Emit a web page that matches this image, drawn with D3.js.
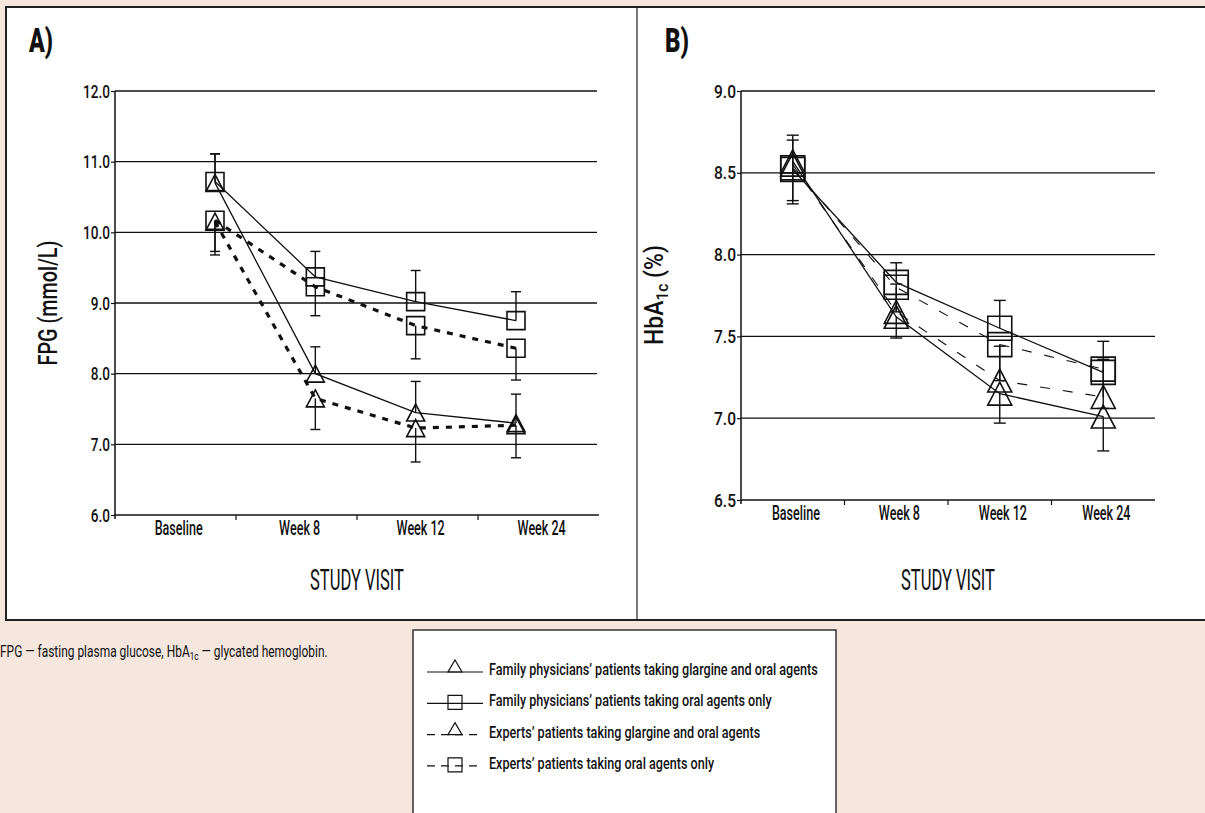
<!DOCTYPE html>
<html><head><meta charset="utf-8">
<script src="https://cdn.jsdelivr.net/npm/d3@7"></script>
<style>
body{margin:0;background:#f5e7de;}
svg{display:block;}
text{font-family:Roboto,"Liberation Sans Narrow","DejaVu Sans",sans-serif;fill:#111;font-weight:500;}
</style></head><body>
<svg id="c" width="1205" height="813"></svg>
<script>
// ---------- data ----------
const categories = ["Baseline", "Week 8", "Week 12", "Week 24"];
const seriesNames = [
  "Family physicians\u2019 patients taking glargine and oral agents",
  "Family physicians\u2019 patients taking oral agents only",
  "Experts\u2019 patients taking glargine and oral agents",
  "Experts\u2019 patients taking oral agents only"
];
// Panel A: FPG (mmol/L)
const fpgTicks = [6, 7, 8, 9, 10, 11, 12];
const fpgFamGlargine = [10.70, 8.00, 7.45, 7.30];
const fpgFamOral     = [10.72, 9.37, 9.02, 8.75];
const fpgExpGlargine = [10.15, 7.65, 7.23, 7.27];
const fpgExpOral     = [10.17, 9.23, 8.68, 8.36];
const fpgFamGlargineErrUp   = [0.41, 0.38, 0.44, 0.41];
const fpgFamOralErrUp       = [0.39, 0.36, 0.44, 0.41];
const fpgExpGlargineErrDown = [0.47, 0.44, 0.48, 0.46];
const fpgExpOralErrDown     = [0.44, 0.41, 0.47, 0.45];
// Panel B: HbA1c (%)
const hbaTicks = [6.5, 7.0, 7.5, 8.0, 8.5, 9.0];
const hbaFamGlargine = [8.57, 7.62, 7.15, 7.01];
const hbaFamOral     = [8.52, 7.83, 7.55, 7.28];
const hbaExpGlargine = [8.55, 7.65, 7.23, 7.13];
const hbaExpOral     = [8.53, 7.80, 7.45, 7.30];
const hbaFamGlargineErrDown = [0.26, 0.13, 0.18, 0.21];
const hbaFamOralErrUp       = [0.21, 0.12, 0.17, 0.19];
const hbaExpGlargineErrUp   = [0.15, 0.17, 0.21, 0.23];
const hbaExpOralErrDown     = [0.20, 0.15, 0.22, 0.24];
const zeros = [0, 0, 0, 0];

// ---------- helpers ----------
const svg = d3.select("#c");
function squeeze(sel, k) {
  sel.each(function () {
    const t = d3.select(this);
    const x = +(t.attr("x") || 0);
    t.attr("x", x / k).attr("transform", `scale(${k},1)`);
  });
}
function factorFor(sel, w) { return w / sel.node().getComputedTextLength(); }

// ---------- frame ----------
svg.append("rect").attr("x", 6).attr("y", 7).attr("width", 1210).attr("height", 613)
  .attr("fill", "#fff").attr("stroke", "#222").attr("stroke-width", 2);
svg.append("line").attr("x1", 637).attr("x2", 637).attr("y1", 7).attr("y2", 620)
  .attr("stroke", "#222").attr("stroke-width", 1.2);

function trianglePath(w, h) {
  return `M0,${-h / 2}L${w / 2},${h / 2}L${-w / 2},${h / 2}Z`;
}

function drawPanel(cfg) {
  const g = svg.append("g");
  const y = d3.scaleLinear().domain(cfg.yDomain).range([cfg.yBottom, cfg.yTop]);
  const xb = d3.scaleBand().domain(categories).range([cfg.x0, cfg.x1]);
  const xp = d3.scalePoint().domain(categories).range(cfg.pointRange);

  // gridlines
  g.selectAll(".grid").data(cfg.ticks.slice(1)).join("line")
    .attr("x1", cfg.x0).attr("x2", cfg.gridEnd)
    .attr("y1", d => y(d)).attr("y2", d => y(d))
    .attr("stroke", "#111").attr("stroke-width", 1.3);

  // y axis
  const ya = g.append("g").attr("transform", `translate(${cfg.x0},0)`)
    .call(d3.axisLeft(y).tickValues(cfg.ticks).tickFormat(d3.format(".1f")).tickSize(4).tickSizeOuter(0).tickPadding(1));
  ya.attr("font-family", null).attr("font-size", null);
  ya.select(".domain").attr("stroke", "#111").attr("stroke-width", 1.5).attr("d", `M0,${cfg.yBottom + 4}V${cfg.yTop}`);
  ya.selectAll(".tick line").attr("stroke", "#111").attr("stroke-width", 1.2);
  const yt = ya.selectAll(".tick text").style("font-size", "19px").attr("fill", "#111");
  const kY = factorFor(ya.select(".tick:last-of-type text"), cfg.topTickW);
  squeeze(yt, kY);

  // x axis
  const xa = g.append("g").attr("transform", `translate(0,${cfg.yBottom})`)
    .call(d3.axisBottom(xb).tickSize(0).tickPadding(6));
  xa.attr("font-family", null).attr("font-size", null);
  xa.select(".domain").attr("stroke", "#111").attr("stroke-width", 1.5).attr("d", `M${cfg.x0},0H${cfg.x1}`);
  const xt = xa.selectAll(".tick text").style("font-size", "20px").attr("fill", "#111").attr("dx", cfg.labelShift);
  const kX = factorFor(xa.select(".tick text"), cfg.baselineW);
  squeeze(xt, kX);
  g.selectAll(".xt").data(categories.slice(1)).join("line")
    .attr("x1", d => xb(d)).attr("x2", d => xb(d))
    .attr("y1", cfg.yBottom).attr("y2", cfg.yBottom + 5)
    .attr("stroke", "#111").attr("stroke-width", 1.2);

  // series
  const lineGen = d3.line().x((d, i) => xp(categories[i])).y(d => y(d));
  cfg.series.forEach(s => {
    g.append("path").attr("d", lineGen(s.values)).attr("fill", "none")
      .attr("stroke", "#111").attr("stroke-width", s.dashed ? cfg.dashWidth : 1.3)
      .attr("stroke-dasharray", s.dashed ? cfg.dash : null);
  });
  cfg.series.forEach(s => {
    s.values.forEach((v, i) => {
      const cx = xp(categories[i]);
      [[s.errUp[i], 1], [s.errDown[i], -1]].forEach(([e, dir]) => {
        if (!e) return;
        const ye = y(v + dir * e);
        g.append("line").attr("x1", cx).attr("x2", cx).attr("y1", y(v)).attr("y2", ye)
          .attr("stroke", "#111").attr("stroke-width", 1.4);
        g.append("line").attr("x1", cx - cfg.cap).attr("x2", cx + cfg.cap).attr("y1", ye).attr("y2", ye)
          .attr("stroke", "#111").attr("stroke-width", 1.4);
      });
    });
    g.selectAll(null).data(s.values).join("path")
      .attr("transform", (d, i) => `translate(${xp(categories[i])},${y(d)})`)
      .attr("d", s.shape === "tri" ? trianglePath(cfg.mk, cfg.mk - 1)
        : `M${-cfg.mk / 2},${-cfg.mk / 2}h${cfg.mk}v${cfg.mk}h${-cfg.mk}Z`)
      .attr("fill", "none").attr("stroke", "#111").attr("stroke-width", 1.6);
  });

  // labels
  const lab = g.append("text").attr("x", cfg.panelLabelX).attr("y", 52)
    .style("font-size", "33px").style("font-weight", "900").text(cfg.panelLabel);
  squeeze(lab, factorFor(lab, 24));
  const st = g.append("text").attr("x", (cfg.x0 + cfg.x1) / 2).attr("y", 590)
    .attr("text-anchor", "middle").style("font-size", "30px").style("font-weight", "400").text("STUDY VISIT");
  squeeze(st, factorFor(st, 94));
  const yl = g.append("g").attr("transform", `translate(${cfg.yLabelX},${cfg.yLabelY}) rotate(-90)`)
    .append("text").attr("text-anchor", "middle").style("font-size", "25px");
  cfg.yLabel(yl);
  squeeze(yl, factorFor(yl, cfg.yLabelW));
}

drawPanel({
  panelLabel: "A)", panelLabelX: 29,
  yDomain: [6, 12], yBottom: 515, yTop: 91, ticks: fpgTicks, topTickW: 27, baselineW: 48,
  x0: 115, x1: 599, gridEnd: 597, pointRange: [215, 516], labelShift: 5,
  dash: "6,7", dashWidth: 3.2, cap: 5, mk: 18,
  yLabelX: 57, yLabelY: 303, yLabelW: 125,
  yLabel: t => t.text("FPG (mmol/L)"),
  series: [
    { values: fpgFamGlargine, errUp: fpgFamGlargineErrUp, errDown: zeros, shape: "tri", dashed: false },
    { values: fpgFamOral, errUp: fpgFamOralErrUp, errDown: zeros, shape: "sq", dashed: false },
    { values: fpgExpGlargine, errUp: zeros, errDown: fpgExpGlargineErrDown, shape: "tri", dashed: true },
    { values: fpgExpOral, errUp: zeros, errDown: fpgExpOralErrDown, shape: "sq", dashed: true }
  ]
});
drawPanel({
  panelLabel: "B)", panelLabelX: 665,
  yDomain: [6.5, 9], yBottom: 500, yTop: 91, ticks: hbaTicks, topTickW: 22, baselineW: 48,
  x0: 741, x1: 1155, gridEnd: 1155, pointRange: [792.75, 1103.25], labelShift: 5,
  dash: "10,13", dashWidth: 1.1, cap: 6, mk: 24,
  yLabelX: 663, yLabelY: 295, yLabelW: 100,
  yLabel: t => {
    t.append("tspan").text("HbA");
    t.append("tspan").attr("dy", 5).style("font-size", "17px").text("1c");
    t.append("tspan").attr("dy", -5).text(" (%)");
  },
  series: [
    { values: hbaFamGlargine, errUp: zeros, errDown: hbaFamGlargineErrDown, shape: "tri", dashed: false },
    { values: hbaFamOral, errUp: hbaFamOralErrUp, errDown: zeros, shape: "sq", dashed: false },
    { values: hbaExpGlargine, errUp: hbaExpGlargineErrUp, errDown: zeros, shape: "tri", dashed: true },
    { values: hbaExpOral, errUp: zeros, errDown: hbaExpOralErrDown, shape: "sq", dashed: true }
  ]
});

// ---------- footnote ----------
const fn = svg.append("text").attr("x", 0).attr("y", 657).style("font-size", "16px").style("font-weight", "400");
fn.append("tspan").text("FPG \u2014 fasting plasma glucose, HbA");
fn.append("tspan").attr("dy", 3).style("font-size", "11px").text("1c");
fn.append("tspan").attr("dy", -3).text(" \u2014 glycated hemoglobin.");
squeeze(fn, factorFor(fn, 328));

// ---------- legend ----------
const lg = svg.append("g");
lg.append("rect").attr("x", 413).attr("y", 630).attr("width", 423).attr("height", 200)
  .attr("fill", "#fff").attr("stroke", "#333").attr("stroke-width", 1.5);
const legendShapes = ["tri", "sq", "tri", "sq"];
const legendDashed = [false, false, true, true];
let kL = null;
seriesNames.forEach((name, i) => {
  const yy = 672 + i * 31.3;
  lg.append("line").attr("x1", 427).attr("x2", 483).attr("y1", yy).attr("y2", yy)
    .attr("stroke", "#111").attr("stroke-width", 1.2)
    .attr("stroke-dasharray", legendDashed[i] ? "8,6" : null);
  lg.append("path").attr("transform", `translate(455,${legendShapes[i] === "tri" ? yy - 6 : yy - 1})`)
    .attr("d", legendShapes[i] === "tri" ? trianglePath(14, 12) : "M-7,-7h14v14h-14Z")
    .attr("fill", "none").attr("stroke", "#111").attr("stroke-width", 1.2);
  const t = lg.append("text").attr("x", 489).attr("y", yy + 3).style("font-size", "17px").text(name);
  if (kL === null) kL = factorFor(t, 329);
  squeeze(t, kL);
});
</script>
</body></html>
